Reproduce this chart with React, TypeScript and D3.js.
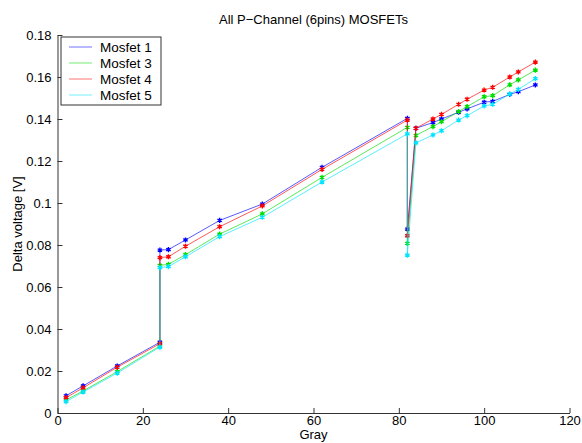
import React, { useEffect, useRef } from 'react';
import * as d3 from 'd3';

const gray = [2, 6, 14, 24, 24, 26, 30, 38, 48, 62, 82, 82, 84, 88, 90, 94, 96, 100, 102, 106, 108, 112];

const mosfet1 = [0.0082, 0.0129, 0.0224, 0.0337, 0.0776, 0.0778, 0.0824, 0.0917, 0.0995, 0.117, 0.1403, 0.0876, 0.1356, 0.1383, 0.14, 0.1432, 0.1448, 0.148, 0.1484, 0.1517, 0.153, 0.1562];
const mosfet3 = [0.0062, 0.0105, 0.0197, 0.0319, 0.0703, 0.0708, 0.0754, 0.0852, 0.0948, 0.1122, 0.136, 0.0808, 0.1322, 0.1364, 0.1387, 0.1435, 0.1459, 0.1506, 0.1511, 0.1563, 0.1586, 0.1633];
const mosfet4 = [0.0073, 0.012, 0.0218, 0.033, 0.074, 0.0744, 0.0794, 0.0887, 0.0986, 0.116, 0.1395, 0.0844, 0.1356, 0.14, 0.1422, 0.147, 0.1494, 0.1538, 0.1551, 0.16, 0.1624, 0.1671];
const mosfet5 = [0.0054, 0.01, 0.019, 0.0314, 0.0692, 0.0697, 0.0744, 0.084, 0.0932, 0.11, 0.1329, 0.0752, 0.1286, 0.1324, 0.1344, 0.1395, 0.1416, 0.1462, 0.147, 0.1519, 0.1541, 0.1592];

const seriesNames = ['Mosfet 1', 'Mosfet 3', 'Mosfet 4', 'Mosfet 5'];
const seriesValues = [mosfet1, mosfet3, mosfet4, mosfet5];
const colors = ['#0000ff', '#00dd00', '#ff0000', '#00e5ff'];

const xTicks = [0, 20, 40, 60, 80, 100, 120];
const yTicks = [0, 0.02, 0.04, 0.06, 0.08, 0.1, 0.12, 0.14, 0.16, 0.18];

const App = () => {
  const svgRef = useRef<SVGSVGElement>(null);

  useEffect(() => {
    const width = 582;
    const height = 443;
    const margin = { top: 35, right: 12.5, bottom: 30, left: 57.5 };
    const font = 'Liberation Sans, Arial, sans-serif';

    const root = d3.select(svgRef.current);
    root.selectAll('*').remove();
    root.attr('width', width).attr('height', height);

    root.append('rect').attr('width', width).attr('height', height).attr('fill', '#fff');

    const x = d3.scaleLinear().domain([0, 120]).range([margin.left, width - margin.right]);
    const y = d3.scaleLinear().domain([0, 0.18]).range([height - margin.bottom, margin.top]);

    // X axis
    const xAxis = root.append('g')
      .attr('transform', `translate(0,${height - margin.bottom})`)
      .call(d3.axisBottom(x).tickValues(xTicks).tickSizeInner(-5).tickSizeOuter(0).tickPadding(3));

    // Y axis
    const yAxis = root.append('g')
      .attr('transform', `translate(${margin.left},0)`)
      .call(d3.axisLeft(y).tickValues(yTicks).tickSizeInner(-5).tickSizeOuter(0).tickPadding(6)
        .tickFormat(d => String(+(+d).toFixed(2))));

    [xAxis, yAxis].forEach(g => {
      g.select('.domain').attr('stroke', '#333');
      g.selectAll('.tick line').attr('stroke', '#333');
      g.selectAll('.tick text').attr('fill', '#000').style('font-family', font).style('font-size', '13px');
    });

    // Lines and markers
    const line = d3.line<number>()
      .x((_, i) => x(gray[i]))
      .y(d => y(d));

    const marker = d3.symbol().type(d3.symbolAsterisk).size(18);

    seriesValues.forEach((values, s) => {
      root.append('path')
        .datum(values)
        .attr('d', line)
        .attr('fill', 'none')
        .attr('stroke', colors[s])
        .attr('stroke-opacity', 0.65)
        .attr('stroke-width', 1);

      root.append('g')
        .selectAll('path')
        .data(values)
        .enter()
        .append('path')
        .attr('transform', (d, i) => `translate(${x(gray[i])},${y(d)})`)
        .attr('d', marker)
        .attr('fill', 'none')
        .attr('stroke', colors[s])
        .attr('stroke-width', 1.4);
    });

    // Title
    root.append('text')
      .attr('x', (margin.left + width - margin.right) / 2)
      .attr('y', 24)
      .attr('text-anchor', 'middle')
      .style('font-family', font)
      .style('font-size', '13px')
      .text('All P\u2212Channel (6pins) MOSFETs');

    // X axis label
    root.append('text')
      .attr('x', (margin.left + width - margin.right) / 2)
      .attr('y', 439)
      .attr('text-anchor', 'middle')
      .style('font-family', font)
      .style('font-size', '13px')
      .text('Gray');

    // Y axis label
    root.append('text')
      .attr('transform', `translate(22,${(margin.top + height - margin.bottom) / 2}) rotate(-90)`)
      .attr('text-anchor', 'middle')
      .style('font-family', font)
      .style('font-size', '13px')
      .text('Delta voltage [V]');

    // Legend
    const legend = root.append('g').attr('transform', 'translate(61,37)');
    legend.append('rect')
      .attr('width', 100)
      .attr('height', 68)
      .attr('fill', '#fff')
      .attr('stroke', '#333');

    seriesNames.forEach((name, i) => {
      const row = legend.append('g').attr('transform', `translate(0,${10 + i * 16})`);
      row.append('line')
        .attr('x1', 8).attr('x2', 31)
        .attr('stroke', colors[i])
        .attr('stroke-opacity', 0.55);
      row.append('text')
        .attr('x', 39)
        .attr('y', 5)
        .style('font-family', font)
        .style('font-size', '13.5px')
        .text(name);
    });
  }, []);

  return (
    <svg ref={svgRef} style={{ position: 'absolute', left: 0, top: 0 }}></svg>
  );
};

export default App;
